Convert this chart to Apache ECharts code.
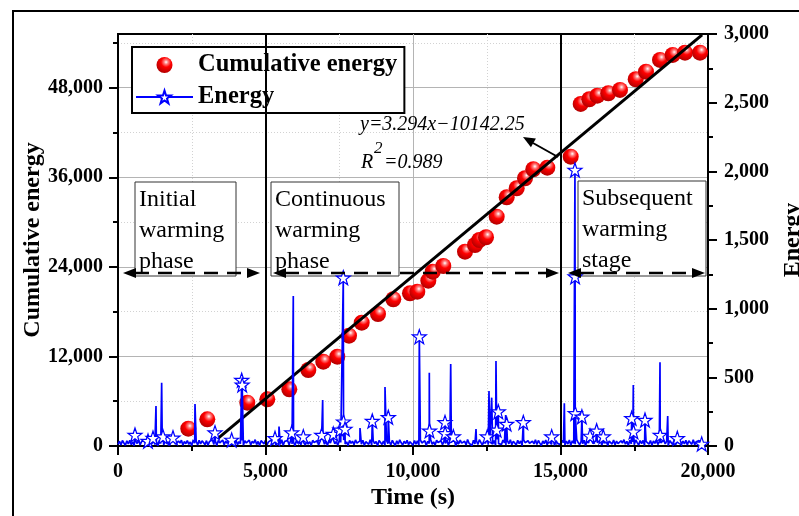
<!DOCTYPE html>
<html><head><meta charset="utf-8">
<script src="https://cdn.jsdelivr.net/npm/echarts@6/dist/echarts.min.js"></script>
<style>html,body{margin:0;padding:0;background:#fff}#c{width:799px;height:516px}</style>
</head><body><div id="c"></div>
<script>
// ---- Cumulative energy (left axis) ----
const cumT = [2383,3027,4383,5061,5807,6451,6959,7434,7831,8261,8814,9332,9898,10146,10519,10668,11027,11763,12102,12248,12475,12837,13176,13515,13797,14078,14553,15346,15685,15976,16247,16620,17017,17549,17898,18373,18803,19220,19729];
const cumE = [2318,3578,5802,6258,7598,10184,11296,11966,14780,16522,17688,19658,20462,20676,22150,23356,24120,26036,26934,27604,27966,30726,33326,34532,35872,37078,37292,38766,45828,46458,46940,47262,47704,49138,50156,51724,52394,52702,52702];
// ---- Linear fit y=3.294x-10142.25 (endpoints) ----
const fitT = [3400, 19800];
const fitE = [1058, 55079];
// ---- Energy (right axis): background samples every 50 s ----
const baseStep = 50;
const baseE = [
12,35,8,40,22,5,38,15,42,10,30,3,36,18,44,7,33,20,41,9,
28,6,39,14,45,11,34,2,40,19,37,8,43,16,31,4,38,24,46,13,
9,36,21,42,5,33,17,40,12,29,3,44,20,35,7,41,15,38,26,10,
39,6,32,18,45,11,37,4,41,23,14,43,8,36,19,40,2,34,27,12,
44,9,31,16,40,5,38,22,13,42,7,35,20,46,10,33,3,39,25,15,
41,8,30,17,43,12,36,4,39,21,11,45,6,34,24,40,9,37,14,28,
2,42,19,35,10,44,23,7,38,16,31,5,41,26,12,39,8,33,20,47,
13,36,4,40,22,9,45,17,32,6,38,25,11,43,15,30,3,41,19,35,
10,44,21,7,37,14,42,5,31,24,12,46,8,39,18,33,2,40,27,11,
36,6,43,16,29,9,41,20,4,38,13,45,23,7,35,17,42,10,31,26,
5,40,14,37,8,44,22,11,39,3,34,19,46,12,30,7,42,25,15,38,
9,33,18,45,6,36,24,10,41,2,39,16,43,21,13,35,8,47,20,28,
4,42,15,38,11,46,26,7,35,19,44,9,32,23,14,40,6,48,17,31,
12,43,22,5,39,16,45,10,34,27,8,41,18,36,3,44,24,13,38,20,
7,35,15,46,11,40,21,4,37,17,43,9,33,26,12,45,6,39,19,30,
10,41,23,8,36,14,44,5,38,20,13,46,25,9,34,16,42,3,37,22,
11,45,18,6,39,24,12,43,7,32,19,40,4,36,27,14,44,9,35,17,
8,38,21,46,13,34,5,42,16,30,10,44,25,7,39,18,41,3,33,23,
14,40,6,37,19,45,11,31,22,9,43,15,36,4,39,26,12,42,8,34,
20,44,10,35,16,41,7,38,24,12,45,9,30,18,40,6,15];
// spikes without star symbol
const spikeT = [1288,1480,2610,5458,5942,6938,8203,9051,10553,11278,12136,12576,12667,12813,13141,15130,15717,17468,18373,18634];
const spikeE = [291,461,306,141,1092,335,131,430,534,597,124,400,352,619,226,311,153,444,609,218];
// points drawn with a star symbol
const starT = [576,1017,1186,1525,1864,3288,3853,4193,4210,5322,5888,6282,6905,7298,7525,7637,7645,7695,8620,9163,10214,10560,11085,11090,11368,12519,12837,12892,13175,13740,14701,15490,15495,15500,15725,16000,16225,16451,17413,17475,17864,18380,18960,19786];
const starE = [80,36,58,68,60,97,44,480,445,56,97,68,80,87,117,1225,177,124,182,209,796,111,172,92,68,68,117,250,160,172,68,2010,1233,238,213,73,111,68,202,104,189,80,56,15];
// phase boundaries
const phaseBounds = [5000, 15000];
// axis ticks
const xTicks = {min:0, max:20000, interval:5000};
const yLeftTicks = {min:0, max:55200, interval:12000};
const yLeftTickValues = [0, 12000, 24000, 36000, 48000];
const yRightTicks = {min:0, max:3000, interval:500};

const energyPts = [];
baseE.forEach((v,i)=>energyPts.push([i*baseStep, v]));
spikeT.forEach((t,i)=>energyPts.push([t, spikeE[i]]));
starT.forEach((t,i)=>energyPts.push([t, starE[i]]));
energyPts.sort((a,b)=>a[0]-b[0]);

const SERIF = "'Liberation Serif','Times New Roman',serif";
const STAR = 'path://M50,2 L61.5,36 L97,36 L68.5,57.5 L79,92 L50,71 L21,92 L31.5,57.5 L3,36 L38.5,36 Z';
const fmt = v => Math.round(v).toLocaleString('en-US');

const sphere = {type:'radial', x:0.6, y:0.32, r:0.7, colorStops:[
  {offset:0,color:'#ffffff'},{offset:0.18,color:'#ff8080'},{offset:0.45,color:'#ff0000'},{offset:1,color:'#b00000'}]};

function head(tx,ty,fx,fy,L,W){
  const dx=tx-fx, dy=ty-fy, d=Math.hypot(dx,dy), ux=dx/d, uy=dy/d;
  const bx=tx-ux*L, by=ty-uy*L;
  return {type:'polygon', z:50, shape:{points:[[tx,ty],[bx-uy*W,by+ux*W],[bx+uy*W,by-ux*W]]}, style:{fill:'#000'}};
}
function dashArrow(x1,x2,y){
  return [
    {type:'line', z:50, shape:{x1:x1+12,y1:y,x2:x2-12,y2:y}, style:{stroke:'#000',lineWidth:2.6,lineDash:[14,9]}},
    head(x1,y,x1+20,y,13,5), head(x2,y,x2-20,y,13,5)
  ];
}
function box(x,y,w,h,txt){
  return [
    {type:'rect', z:1, shape:{x:x,y:y,width:w,height:h}, style:{fill:'#fff',stroke:'#333',lineWidth:1}},
    {type:'text', z:1, x:x+4, y:y+2, style:{text:txt, font:'24px '+SERIF, fill:'#000', lineHeight:31, verticalAlign:'top'}}
  ];
}
const eqArrow = [
  {type:'line', z:50, shape:{x1:558,y1:157,x2:533,y2:143}, style:{stroke:'#000',lineWidth:2}},
  head(523,137,558,157,12,5)
];

const chart = echarts.init(document.getElementById('c'), null, {renderer:'canvas'});
chart.setOption({
  animation:false,
  backgroundColor:'#fff',
  grid:{left:118, right:91, top:34, bottom:70, show:true, borderColor:'#000', borderWidth:2, backgroundColor:'transparent', containLabel:false, outerBoundsMode:'none'},
  legend:{
    data:['Cumulative energy','Energy'], orient:'vertical', left:132, top:47,
    padding:[5,7,3,3], itemGap:6, itemWidth:57, itemHeight:16,
    borderColor:'#000', borderWidth:2, backgroundColor:'#fff',
    textStyle:{fontFamily:SERIF, fontWeight:'bold', fontSize:24.5, color:'#000', lineHeight:26}
  },
  xAxis:{
    type:'value', min:xTicks.min, max:xTicks.max, interval:xTicks.interval,
    name:'Time (s)', nameLocation:'middle', nameGap:40, nameMoveOverlap:false,
    nameTextStyle:{fontFamily:SERIF, fontWeight:'bold', fontSize:24, color:'#000'},
    axisLine:{lineStyle:{color:'#000', width:2}},
    axisTick:{length:9, lineStyle:{color:'#000', width:2}},
    minorTick:{show:true, splitNumber:2, length:5, lineStyle:{color:'#000', width:2}},
    axisLabel:{margin:16, fontFamily:SERIF, fontWeight:'bold', fontSize:20, color:'#000', formatter:fmt},
    splitLine:{show:true, lineStyle:{color:'#b4b4b4', width:1}},
    minorSplitLine:{show:true, lineStyle:{color:'#d2d2d2', width:1, type:[1,2]}}
  },
  yAxis:[{
    type:'value', min:yLeftTicks.min, max:yLeftTicks.max, interval:yLeftTicks.interval,
    name:'Cumulative energy', nameLocation:'middle', nameGap:73, nameMoveOverlap:false,
    nameTextStyle:{fontFamily:SERIF, fontWeight:'bold', fontSize:24, color:'#000'},
    axisLine:{lineStyle:{color:'#000', width:2}},
    axisTick:{length:9, lineStyle:{color:'#000', width:2}, customValues:yLeftTickValues},
    minorTick:{show:true, splitNumber:2, length:5, lineStyle:{color:'#000', width:2}},
    axisLabel:{margin:15, fontFamily:SERIF, fontWeight:'bold', fontSize:20, color:'#000', formatter:fmt, showMaxLabel:false},
    splitLine:{show:true, lineStyle:{color:'#b4b4b4', width:1}},
    minorSplitLine:{show:true, lineStyle:{color:'#d2d2d2', width:1, type:[1,2]}}
  },{
    type:'value', position:'right', min:yRightTicks.min, max:yRightTicks.max, interval:yRightTicks.interval,
    name:'Energy', nameLocation:'middle', nameGap:73, nameRotate:90, nameMoveOverlap:false,
    nameTextStyle:{fontFamily:SERIF, fontWeight:'bold', fontSize:24, color:'#000'},
    axisLine:{show:true, lineStyle:{color:'#000', width:2}},
    axisTick:{length:9, lineStyle:{color:'#000', width:2}},
    minorTick:{show:true, splitNumber:2, length:5, lineStyle:{color:'#000', width:2}},
    axisLabel:{margin:16, fontFamily:SERIF, fontWeight:'bold', fontSize:20, color:'#000', formatter:fmt},
    splitLine:{show:false}
  }],
  series:[
    {name:'Cumulative energy', type:'scatter', yAxisIndex:0, z:2, symbol:'circle', symbolSize:16,
     itemStyle:{color:sphere, opacity:1},
     data:cumT.map((t,i)=>[t,cumE[i]])},
    {name:'fit', type:'line', yAxisIndex:0, z:3, symbol:'none', lineStyle:{color:'#000', width:3},
     data:fitT.map((t,i)=>[t,fitE[i]]),
     markLine:{silent:true, symbol:'none', label:{show:false}, z:10,
       lineStyle:{color:'#000', width:2, type:'solid'},
       data:phaseBounds.map(v=>({xAxis:v}))}},
    {name:'Energy', type:'line', yAxisIndex:1, z:4, symbol:STAR, showSymbol:false, symbolSize:13,
     lineStyle:{color:'#0000ff', width:1.7}, itemStyle:{color:'#ffffff', borderColor:'#0000ff', borderWidth:1},
     data:energyPts},
    {name:'Energy', type:'scatter', yAxisIndex:1, z:5, symbol:STAR, symbolSize:14,
     itemStyle:{color:'#ffffff', borderColor:'#0000ff', borderWidth:1.2, opacity:1},
     data:starT.map((t,i)=>[t,starE[i]])}
  ],
  graphic:[
    {type:'rect', z:0, shape:{x:13,y:11,width:800,height:520}, style:{fill:'none', stroke:'#000', lineWidth:2}},
    ...box(135,182,101,94,'Initial\nwarming\nphase'),
    ...box(271,182,128,94,'Continuous\nwarming\nphase'),
    ...box(578,181,128,95,'Subsequent\nwarming\nstage'),
    ...dashArrow(123,260,273),
    ...dashArrow(273,559,273),
    ...dashArrow(568,705,273),
    {type:'text', z:50, x:360, y:125, style:{text:'y=3.294x\u221210142.25', font:'italic 20px '+SERIF, fill:'#000', verticalAlign:'middle'}},
    {type:'text', z:50, x:361, y:163, style:{text:'R', font:'italic 20px '+SERIF, fill:'#000', verticalAlign:'middle'}},
    {type:'text', z:50, x:374, y:149, style:{text:'2', font:'italic 17px '+SERIF, fill:'#000', verticalAlign:'middle'}},
    {type:'text', z:50, x:384, y:163, style:{text:'=0.989', font:'italic 20px '+SERIF, fill:'#000', verticalAlign:'middle'}},
    ...eqArrow
  ]
});
</script></body></html>
